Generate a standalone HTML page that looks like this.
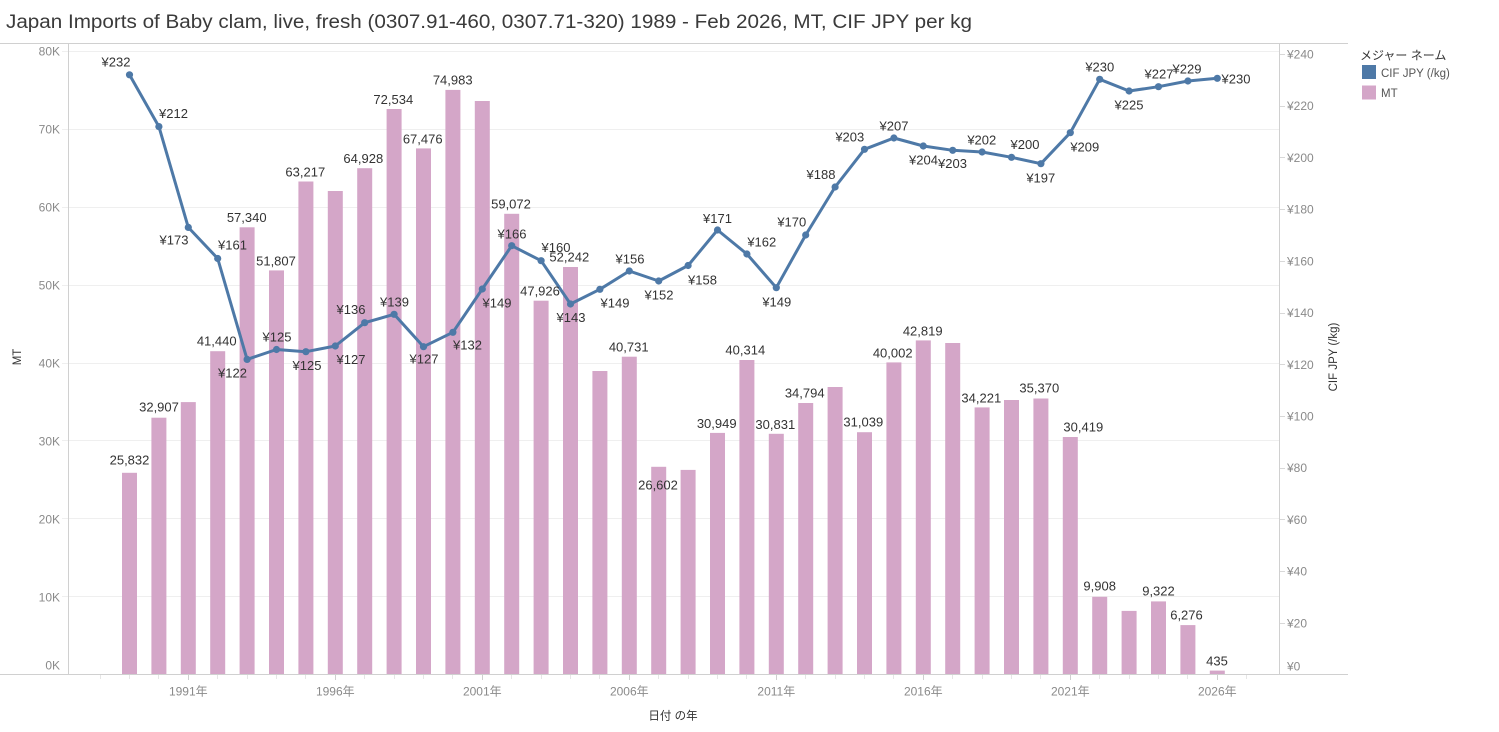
<!DOCTYPE html>
<html><head><meta charset="utf-8"><style>
html,body{margin:0;padding:0;background:#fff;}
svg{display:block;}
text{font-family:"Liberation Sans","Noto Sans CJK JP",sans-serif;}
.ax{font-size:12px;fill:#8a8a8a;}
.lb{font-size:13px;fill:#333;text-anchor:middle;}
</style></head><body>
<svg width="1499" height="732" viewBox="0 0 1499 732" xmlns="http://www.w3.org/2000/svg">
<text x="6" y="28" font-size="19" fill="#3a3a3a" textLength="966" lengthAdjust="spacingAndGlyphs">Japan Imports of Baby clam, live, fresh (0307.91-460, 0307.71-320) 1989 - Feb 2026, MT, CIF JPY per kg</text>
<g stroke="#efefef" stroke-width="1">
<line x1="62" x2="1279" y1="51.5" y2="51.5"/><line x1="62" x2="1279" y1="129.5" y2="129.5"/><line x1="62" x2="1279" y1="207.5" y2="207.5"/><line x1="62" x2="1279" y1="285.5" y2="285.5"/><line x1="62" x2="1279" y1="363.5" y2="363.5"/><line x1="62" x2="1279" y1="440.5" y2="440.5"/><line x1="62" x2="1279" y1="518.5" y2="518.5"/><line x1="62" x2="1279" y1="596.5" y2="596.5"/>
</g>
<g stroke="#d0d0d0" stroke-width="1">
<line x1="0" x2="1348" y1="43.5" y2="43.5"/>
<line x1="0" x2="1348" y1="674.5" y2="674.5"/>
<line x1="68.5" x2="68.5" y1="43.5" y2="674.5"/>
<line x1="1279.5" x2="1279.5" y1="43.5" y2="674.5"/>
</g>
<g stroke="#d8d8d8" stroke-width="1">
<line x1="1280" x2="1285" y1="54.5" y2="54.5"/><line x1="1280" x2="1285" y1="106.5" y2="106.5"/><line x1="1280" x2="1285" y1="157.5" y2="157.5"/><line x1="1280" x2="1285" y1="209.5" y2="209.5"/><line x1="1280" x2="1285" y1="261.5" y2="261.5"/><line x1="1280" x2="1285" y1="313.5" y2="313.5"/><line x1="1280" x2="1285" y1="364.5" y2="364.5"/><line x1="1280" x2="1285" y1="416.5" y2="416.5"/><line x1="1280" x2="1285" y1="468.5" y2="468.5"/><line x1="1280" x2="1285" y1="519.5" y2="519.5"/><line x1="1280" x2="1285" y1="571.5" y2="571.5"/><line x1="1280" x2="1285" y1="623.5" y2="623.5"/>
</g>
<g stroke="#e6e6e6" stroke-width="1">
<line x1="100.5" x2="100.5" y1="675" y2="679"/><line x1="129.5" x2="129.5" y1="675" y2="679"/><line x1="158.5" x2="158.5" y1="675" y2="679"/><line x1="217.5" x2="217.5" y1="675" y2="679"/><line x1="247.5" x2="247.5" y1="675" y2="679"/><line x1="276.5" x2="276.5" y1="675" y2="679"/><line x1="305.5" x2="305.5" y1="675" y2="679"/><line x1="364.5" x2="364.5" y1="675" y2="679"/><line x1="394.5" x2="394.5" y1="675" y2="679"/><line x1="423.5" x2="423.5" y1="675" y2="679"/><line x1="452.5" x2="452.5" y1="675" y2="679"/><line x1="511.5" x2="511.5" y1="675" y2="679"/><line x1="541.5" x2="541.5" y1="675" y2="679"/><line x1="570.5" x2="570.5" y1="675" y2="679"/><line x1="599.5" x2="599.5" y1="675" y2="679"/><line x1="658.5" x2="658.5" y1="675" y2="679"/><line x1="688.5" x2="688.5" y1="675" y2="679"/><line x1="717.5" x2="717.5" y1="675" y2="679"/><line x1="746.5" x2="746.5" y1="675" y2="679"/><line x1="805.5" x2="805.5" y1="675" y2="679"/><line x1="835.5" x2="835.5" y1="675" y2="679"/><line x1="864.5" x2="864.5" y1="675" y2="679"/><line x1="893.5" x2="893.5" y1="675" y2="679"/><line x1="952.5" x2="952.5" y1="675" y2="679"/><line x1="982.5" x2="982.5" y1="675" y2="679"/><line x1="1011.5" x2="1011.5" y1="675" y2="679"/><line x1="1040.5" x2="1040.5" y1="675" y2="679"/><line x1="1099.5" x2="1099.5" y1="675" y2="679"/><line x1="1129.5" x2="1129.5" y1="675" y2="679"/><line x1="1158.5" x2="1158.5" y1="675" y2="679"/><line x1="1187.5" x2="1187.5" y1="675" y2="679"/><line x1="1246.5" x2="1246.5" y1="675" y2="679"/>
</g>
<g stroke="#cfcfcf" stroke-width="1">
<line x1="188.5" x2="188.5" y1="675" y2="680"/><line x1="335.5" x2="335.5" y1="675" y2="680"/><line x1="482.5" x2="482.5" y1="675" y2="680"/><line x1="629.5" x2="629.5" y1="675" y2="680"/><line x1="776.5" x2="776.5" y1="675" y2="680"/><line x1="923.5" x2="923.5" y1="675" y2="680"/><line x1="1070.5" x2="1070.5" y1="675" y2="680"/><line x1="1217.5" x2="1217.5" y1="675" y2="680"/>
</g>
<g class="ax" text-anchor="end">
<text x="60" y="55.5">80K</text><text x="60" y="133.5">70K</text><text x="60" y="211.5">60K</text><text x="60" y="289.5">50K</text><text x="60" y="367.5">40K</text><text x="60" y="445.5">30K</text><text x="60" y="523.5">20K</text><text x="60" y="601.5">10K</text><text x="60" y="669.5">0K</text>
</g>
<g class="ax" text-anchor="start">
<text x="1287" y="58.5">¥240</text><text x="1287" y="110">¥220</text><text x="1287" y="162">¥200</text><text x="1287" y="213.5">¥180</text><text x="1287" y="265.5">¥160</text><text x="1287" y="317">¥140</text><text x="1287" y="369">¥120</text><text x="1287" y="420.5">¥100</text><text x="1287" y="472">¥80</text><text x="1287" y="524">¥60</text><text x="1287" y="575.5">¥40</text><text x="1287" y="627.5">¥20</text><text x="1287" y="670.5">¥0</text>
</g>
<g class="ax" text-anchor="middle">
<text x="188.3" y="695.5">1991年</text><text x="335.3" y="695.5">1996年</text><text x="482.3" y="695.5">2001年</text><text x="629.3" y="695.5">2006年</text><text x="776.3" y="695.5">2011年</text><text x="923.3" y="695.5">2016年</text><text x="1070.3" y="695.5">2021年</text><text x="1217.3" y="695.5">2026年</text>
</g>
<text x="673" y="719.5" font-size="11.5" fill="#333" text-anchor="middle">日付 の年</text>
<text transform="translate(21,357) rotate(-90)" font-size="11.5" fill="#333" text-anchor="middle">MT</text>
<text transform="translate(1337,357) rotate(-90)" font-size="11.5" fill="#333" text-anchor="middle">CIF JPY (/kg)</text>
<g fill="#d4a6c8">
<rect x="122" y="472.8" width="15" height="201.2"/><rect x="151.4" y="417.7" width="15" height="256.3"/><rect x="180.8" y="402.1" width="15" height="271.9"/><rect x="210.2" y="351.2" width="15" height="322.8"/><rect x="239.6" y="227.3" width="15" height="446.7"/><rect x="269" y="270.4" width="15" height="403.6"/><rect x="298.4" y="181.5" width="15" height="492.5"/><rect x="327.8" y="191" width="15" height="483"/><rect x="357.2" y="168.2" width="15" height="505.8"/><rect x="386.6" y="109" width="15" height="565"/><rect x="416" y="148.4" width="15" height="525.6"/><rect x="445.4" y="89.9" width="15" height="584.1"/><rect x="474.8" y="101" width="15" height="573"/><rect x="504.2" y="213.8" width="15" height="460.2"/><rect x="533.6" y="300.7" width="15" height="373.3"/><rect x="563" y="267" width="15" height="407"/><rect x="592.4" y="371" width="15" height="303"/><rect x="621.8" y="356.7" width="15" height="317.3"/><rect x="651.2" y="466.8" width="15" height="207.2"/><rect x="680.6" y="469.9" width="15" height="204.1"/><rect x="710" y="432.9" width="15" height="241.1"/><rect x="739.4" y="360" width="15" height="314"/><rect x="768.8" y="433.8" width="15" height="240.2"/><rect x="798.2" y="403" width="15" height="271"/><rect x="827.6" y="387" width="15" height="287"/><rect x="857" y="432.2" width="15" height="241.8"/><rect x="886.4" y="362.4" width="15" height="311.6"/><rect x="915.8" y="340.4" width="15" height="333.6"/><rect x="945.2" y="343" width="15" height="331"/><rect x="974.6" y="407.4" width="15" height="266.6"/><rect x="1004" y="400" width="15" height="274"/><rect x="1033.4" y="398.5" width="15" height="275.5"/><rect x="1062.8" y="437" width="15" height="237"/><rect x="1092.2" y="596.8" width="15" height="77.2"/><rect x="1121.6" y="610.9" width="15" height="63.1"/><rect x="1151" y="601.4" width="15" height="72.6"/><rect x="1180.4" y="625.1" width="15" height="48.9"/><rect x="1209.8" y="670.6" width="15" height="3.4"/>
</g>
<polyline fill="none" stroke="#4e79a7" stroke-width="3" stroke-linejoin="round" points="129.5,74.8 158.9,126.6 188.3,227.4 217.7,258.5 247.1,359.4 276.5,349.5 305.9,351.7 335.3,346 364.7,322.7 394.1,314.3 423.5,346.7 452.9,332.3 482.3,289 511.7,245.7 541.1,260.7 570.5,304 599.9,289.3 629.3,271 658.7,281 688.1,265.5 717.5,230 746.9,254 776.3,287.7 805.7,235 835.1,187 864.5,149.3 893.9,138 923.3,146 952.7,150.3 982.1,152 1011.5,157.3 1040.9,163.7 1070.3,132.7 1099.7,79.3 1129.1,91 1158.5,86.7 1187.9,81 1217.3,78.3"/>
<g fill="#4e79a7">
<circle cx="129.5" cy="74.8" r="3.6"/><circle cx="158.9" cy="126.6" r="3.6"/><circle cx="188.3" cy="227.4" r="3.6"/><circle cx="217.7" cy="258.5" r="3.6"/><circle cx="247.1" cy="359.4" r="3.6"/><circle cx="276.5" cy="349.5" r="3.6"/><circle cx="305.9" cy="351.7" r="3.6"/><circle cx="335.3" cy="346" r="3.6"/><circle cx="364.7" cy="322.7" r="3.6"/><circle cx="394.1" cy="314.3" r="3.6"/><circle cx="423.5" cy="346.7" r="3.6"/><circle cx="452.9" cy="332.3" r="3.6"/><circle cx="482.3" cy="289" r="3.6"/><circle cx="511.7" cy="245.7" r="3.6"/><circle cx="541.1" cy="260.7" r="3.6"/><circle cx="570.5" cy="304" r="3.6"/><circle cx="599.9" cy="289.3" r="3.6"/><circle cx="629.3" cy="271" r="3.6"/><circle cx="658.7" cy="281" r="3.6"/><circle cx="688.1" cy="265.5" r="3.6"/><circle cx="717.5" cy="230" r="3.6"/><circle cx="746.9" cy="254" r="3.6"/><circle cx="776.3" cy="287.7" r="3.6"/><circle cx="805.7" cy="235" r="3.6"/><circle cx="835.1" cy="187" r="3.6"/><circle cx="864.5" cy="149.3" r="3.6"/><circle cx="893.9" cy="138" r="3.6"/><circle cx="923.3" cy="146" r="3.6"/><circle cx="952.7" cy="150.3" r="3.6"/><circle cx="982.1" cy="152" r="3.6"/><circle cx="1011.5" cy="157.3" r="3.6"/><circle cx="1040.9" cy="163.7" r="3.6"/><circle cx="1070.3" cy="132.7" r="3.6"/><circle cx="1099.7" cy="79.3" r="3.6"/><circle cx="1129.1" cy="91" r="3.6"/><circle cx="1158.5" cy="86.7" r="3.6"/><circle cx="1187.9" cy="81" r="3.6"/><circle cx="1217.3" cy="78.3" r="3.6"/>
</g>
<g class="lb">
<text x="129.5" y="464.7">25,832</text><text x="159" y="411.7">32,907</text><text x="216.7" y="345.4">41,440</text><text x="246.7" y="222">57,340</text><text x="276" y="265.4">51,807</text><text x="305.3" y="176.4">63,217</text><text x="363.3" y="163">64,928</text><text x="393.3" y="104">72,534</text><text x="422.7" y="143.7">67,476</text><text x="452.7" y="84.7">74,983</text><text x="511" y="208.7">59,072</text><text x="540" y="295.7">47,926</text><text x="569.3" y="261.4">52,242</text><text x="628.7" y="351.4">40,731</text><text x="658" y="489.7">26,602</text><text x="716.7" y="428">30,949</text><text x="745.3" y="354.7">40,314</text><text x="775.3" y="429">30,831</text><text x="804.7" y="397.4">34,794</text><text x="863.3" y="426.4">31,039</text><text x="892.7" y="357.4">40,002</text><text x="922.7" y="335.7">42,819</text><text x="981.3" y="402.4">34,221</text><text x="1039.3" y="392.7">35,370</text><text x="1083.3" y="431.4">30,419</text><text x="1099.7" y="590.7">9,908</text><text x="1158.5" y="595.7">9,322</text><text x="1186.5" y="619.7">6,276</text><text x="1217" y="665.4">435</text>
</g>
<g class="lb">
<text x="116" y="66.4">¥232</text><text x="173.5" y="118">¥212</text><text x="174" y="244.7">¥173</text><text x="232.5" y="249.7">¥161</text><text x="232.5" y="377.4">¥122</text><text x="277" y="341.4">¥125</text><text x="307" y="370">¥125</text><text x="351" y="314">¥136</text><text x="351" y="364">¥127</text><text x="394.5" y="306.4">¥139</text><text x="424" y="363.7">¥127</text><text x="467.5" y="349.7">¥132</text><text x="497" y="307.4">¥149</text><text x="512" y="238.7">¥166</text><text x="556" y="252">¥160</text><text x="571" y="322">¥143</text><text x="615" y="307.4">¥149</text><text x="630" y="263.7">¥156</text><text x="659" y="299.7">¥152</text><text x="702.5" y="284.7">¥158</text><text x="717.5" y="223">¥171</text><text x="761.8" y="246.4">¥162</text><text x="776.8" y="306.4">¥149</text><text x="791.8" y="226.4">¥170</text><text x="821" y="179">¥188</text><text x="849.8" y="141.4">¥203</text><text x="894" y="130.4">¥207</text><text x="923.5" y="164.7">¥204</text><text x="952.5" y="168">¥203</text><text x="981.8" y="144.7">¥202</text><text x="1025" y="149">¥200</text><text x="1040.8" y="182.4">¥197</text><text x="1084.8" y="151.4">¥209</text><text x="1099.8" y="71.4">¥230</text><text x="1129" y="109.7">¥225</text><text x="1159" y="78.7">¥227</text><text x="1187" y="73.7">¥229</text><text x="1236" y="83.7">¥230</text>
</g>
<text x="1360" y="59.5" font-size="12" fill="#333">メジャー ネーム</text>
<rect x="1362" y="65" width="14" height="14" fill="#4e79a7"/>
<rect x="1362" y="85.5" width="14" height="14" fill="#d4a6c8"/>
<text x="1381" y="77" font-size="11.5" fill="#555">CIF JPY (/kg)</text>
<text x="1381" y="97" font-size="11.5" fill="#555">MT</text>
</svg>
</body></html>
